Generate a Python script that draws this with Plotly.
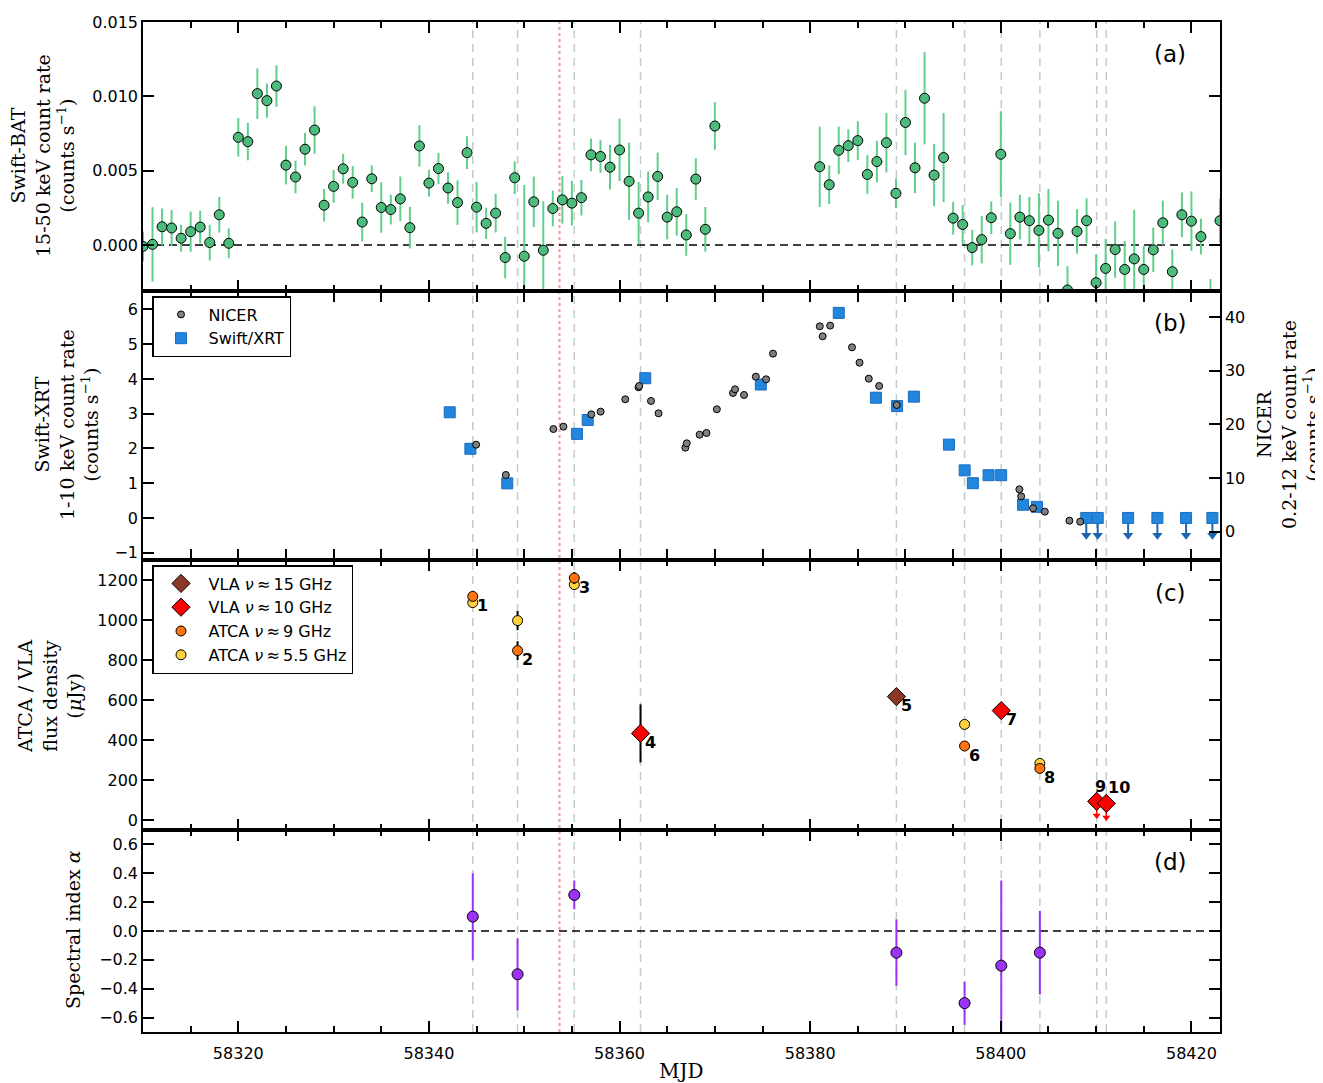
import plotly.graph_objects as go

# ---------------- data ----------------
bat_mjd = list(range(58310, 58371)) + list(range(58381, 58424))
bat_rate = [
    -0.0001, 0.00004, 0.00122, 0.00114, 0.00045, 0.00089, 0.0012, 0.00016, 0.00203, 0.00011,
    0.00724, 0.00695, 0.01018, 0.00971, 0.01069, 0.00537, 0.00457, 0.00644, 0.00773, 0.00267,
    0.00394, 0.00512, 0.00421, 0.00154, 0.00445, 0.00252, 0.00238, 0.0031, 0.00116, 0.00666,
    0.00416, 0.00514, 0.00383, 0.00285, 0.00621, 0.00254, 0.00145, 0.00214, -0.00085, 0.00452,
    -0.00076, 0.0029, -0.00036, 0.00245, 0.00303, 0.00281, 0.00318, 0.00606, 0.00595, 0.00523,
    0.00639, 0.00428, 0.00214, 0.00323, 0.00461, 0.00187, 0.00223, 0.00067, 0.00443, 0.00105,
    0.0080,
    0.00526, 0.00405, 0.00637, 0.00668, 0.00702, 0.00474, 0.00561, 0.00688, 0.00347, 0.00824,
    0.00519, 0.00987, 0.0047, 0.00588, 0.0018, 0.00138, -0.00018, 0.00036, 0.00183, 0.0061,
    0.00076, 0.00187, 0.00163, 0.00098, 0.00167, 0.00078, -0.00303, 0.00091, 0.00163, -0.00254,
    -0.00158, -0.00031, -0.00165, -0.00094, -0.00165, -0.00033, 0.00149, -0.0018, 0.00203, 0.0016,
    0.00056, -0.0044, 0.00163,
]
bat_err = [
    0.0010, 0.0025, 0.00123, 0.0012, 0.0009, 0.00135, 0.0011, 0.0012, 0.0012, 0.0010,
    0.0013, 0.00126, 0.0017, 0.00115, 0.0014, 0.0013, 0.0011, 0.0011, 0.0016, 0.0011,
    0.0011, 0.0010, 0.0011, 0.0013, 0.0009, 0.0017, 0.0010, 0.0015, 0.0014, 0.0014,
    0.0009, 0.00105, 0.00105, 0.0015, 0.0011, 0.0017, 0.00105, 0.0013, 0.0014, 0.0011,
    0.0048, 0.0017, 0.0033, 0.0012, 0.0016, 0.0015, 0.0012, 0.0011, 0.0011, 0.0015,
    0.0021, 0.0026, 0.0021, 0.0017, 0.0016, 0.0015, 0.0016, 0.0014, 0.0014, 0.0015,
    0.0016,
    0.0027, 0.0013, 0.0016, 0.0011, 0.0013, 0.0013, 0.0014, 0.0020, 0.0010, 0.0022,
    0.0017, 0.0031, 0.0021, 0.0030, 0.0011, 0.0013, 0.0012, 0.0016, 0.0011, 0.0029,
    0.0021, 0.0015, 0.0016, 0.0025, 0.0021, 0.0022, 0.0016, 0.0015, 0.0015, 0.0019,
    0.0020, 0.0019, 0.0019, 0.0033, 0.0016, 0.0015, 0.0015, 0.0015, 0.0015, 0.0020,
    0.0012, 0.0021, 0.0015,
]

nicer_mjd = [58344.95, 58348.07, 58353.06, 58354.11, 58357.04, 58358.01, 58360.6, 58361.99,
             58362.06, 58363.3, 58364.09, 58366.9, 58367.05, 58368.4, 58369.12, 58370.21,
             58371.9, 58372.12, 58373.06, 58374.3, 58375.38, 58376.1, 58381.01, 58381.31,
             58382.1, 58384.39, 58385.18, 58386.15, 58387.24, 58389.08, 58401.95, 58402.14,
             58403.38, 58404.62, 58407.2, 58408.33]
nicer_rate = [16.2, 10.56, 19.13, 19.57, 21.86, 22.36, 24.66, 26.89,
              27.14, 24.35, 22.05, 15.65, 16.46, 18.07, 18.39, 22.8,
              25.84, 26.52, 25.47, 28.88, 28.39, 33.17, 38.26, 36.4,
              38.39, 34.35, 31.49, 28.51, 27.14, 23.6, 7.89, 6.58,
              4.35, 3.73, 2.05, 1.86]
nicer_err = [0.3] * len(nicer_mjd)

xrt_mjd = [58342.18, 58344.35, 58348.22, 58355.53, 58356.66, 58362.70, 58374.82, 58383.0,
           58386.9, 58389.12, 58390.88, 58394.56, 58396.21, 58397.07, 58398.72, 58400.04,
           58402.33, 58403.79]
xrt_rate = [3.04, 1.99, 0.995, 2.42, 2.82, 4.02, 3.84, 5.90,
            3.46, 3.22, 3.49, 2.11, 1.37, 1.0, 1.23, 1.23,
            0.38, 0.32]
xrt_err = [0.08, 0.08, 0.08, 0.08, 0.1, 0.16, 0.16, 0.16,
           0.12, 0.1, 0.12, 0.08, 0.1, 0.06, 0.08, 0.1,
           0.06, 0.06]
xrt_ul_mjd = [58408.97, 58410.17, 58413.36, 58416.43, 58419.44, 58422.2]
xrt_ul_rate = [0.0, 0.0, 0.0, 0.0, 0.0, 0.0]

# radio epochs (also marked by the vertical dashed lines)
epoch_mjd = [58344.6, 58349.3, 58355.25, 58362.2, 58389.05, 58396.2, 58400.05, 58404.1, 58410.06, 58411.07]
epoch_labels = ["1", "2", "3", "4", "5", "6", "7", "8", "9", "10"]
epoch_label_flux = [1118, 847, 1210, 433, 617, 370, 547, 258, 93, 83]
outburst_mjd = 58353.7

atca9_epochs = [1, 2, 3, 6, 8]
atca9_flux = [1118, 847, 1210, 370, 258]
atca9_err = [20, 47, 30, 15, 15]
atca55_epochs = [1, 2, 3, 6, 8]
atca55_flux = [1087, 997, 1177, 478, 283]
atca55_err = [20, 48, 25, 15, 15]
vla10_epochs = [4, 7]
vla10_flux = [433, 547]
vla10_err = [145, 20]
vla10_ul_epochs = [9, 10]
vla10_ul_flux = [93, 83]
vla15_epochs = [5]
vla15_flux = [617]
vla15_err = [15]

alpha_epochs = [1, 2, 3, 5, 6, 7, 8]
alpha = [0.10, -0.30, 0.25, -0.15, -0.50, -0.24, -0.15]
alpha_err = [0.30, 0.25, 0.10, 0.23, 0.15, 0.59, 0.29]

# ---------------- layout geometry ----------------
# the page body adds an 8 px offset, so the figure is drawn 8 px smaller
# and the target pixel positions below are in window pixels
OFF = 8
PLOT_L, PLOT_R, PLOT_T, PLOT_B = 143, 1220, 22, 1032
W, H = 1315, 1075
ML = PLOT_L - OFF
MT = PLOT_T - OFF
MR = OFF + W - PLOT_R
MB = OFF + H - PLOT_B
PW, PH = PLOT_R - PLOT_L, PLOT_B - PLOT_T


def px_x(px):
    return (px - PLOT_L) / PW


def px_y(py):
    return (PLOT_B - py) / PH


dom_a = [px_y(291), 1.0]
dom_b = [px_y(560), px_y(291)]
dom_c = [px_y(830), px_y(560)]
dom_d = [0.0, px_y(830)]


def ep(idx_list):
    return [epoch_mjd[i - 1] for i in idx_list]


GREEN = "#4dbb7b"
GREEN_ERR = "#5fcf8c"
XRT_BLUE = "#2186dc"
ARROW_BLUE = "#1f64ad"
ORANGE = "#ff7410"
YELLOW = "#ffd23a"
RED = "#ff0000"
BROWN = "#8c3826"
PURPLE = "#9a33f5"

# upper-limit arrow lengths (style, in axis units)
XRT_UL_ARROW = 0.5
VLA_UL_ARROW = 70

fig = go.Figure()

# panel (a)
fig.add_trace(go.Scatter(
    x=bat_mjd, y=bat_rate, mode="markers", xaxis="x", yaxis="y", showlegend=False,
    error_y=dict(type="data", array=bat_err, color=GREEN_ERR, thickness=2, width=0),
    marker=dict(size=10, color=GREEN, line=dict(color="black", width=1)),
))

# panel (b)
fig.add_trace(go.Scatter(
    x=xrt_mjd, y=xrt_rate, mode="markers", xaxis="x2", yaxis="y2", name="Swift/XRT",
    legend="legend", legendrank=2,
    error_y=dict(type="data", array=xrt_err, color=XRT_BLUE, thickness=1.5, width=0),
    marker=dict(symbol="square", size=11, color=XRT_BLUE, line=dict(color="#1a6cc0", width=1)),
))
# upper limits: stem drawn as a one-sided error bar, head as a small triangle
fig.add_trace(go.Scatter(
    x=xrt_ul_mjd, y=[r - XRT_UL_ARROW for r in xrt_ul_rate], mode="markers", xaxis="x2", yaxis="y2",
    showlegend=False, hoverinfo="skip",
    marker=dict(symbol="triangle-down", size=9, color=ARROW_BLUE, line=dict(width=0)),
))
fig.add_trace(go.Scatter(
    x=xrt_ul_mjd, y=xrt_ul_rate, mode="markers", xaxis="x2", yaxis="y2", showlegend=False,
    error_y=dict(type="data", symmetric=False, array=[0] * len(xrt_ul_rate),
                 arrayminus=[XRT_UL_ARROW] * len(xrt_ul_rate), color=ARROW_BLUE, thickness=2, width=0),
    marker=dict(symbol="square", size=11, color=XRT_BLUE, line=dict(color="#1a6cc0", width=1)),
))
fig.add_trace(go.Scatter(
    x=nicer_mjd, y=nicer_rate, mode="markers", xaxis="x2", yaxis="y3", name="NICER",
    legend="legend", legendrank=1,
    error_y=dict(type="data", array=nicer_err, color="#808080", thickness=1, width=0),
    marker=dict(size=7, color="#808080", line=dict(color="black", width=1)),
))

# panel (c)
fig.add_trace(go.Scatter(
    x=ep(atca55_epochs), y=atca55_flux, mode="markers", xaxis="x3", yaxis="y4",
    name="ATCA <i>ν</i>\u2009≈\u20095.5 GHz", legend="legend2", legendrank=4,
    error_y=dict(type="data", array=atca55_err, color="black", thickness=2, width=0),
    marker=dict(size=10, color=YELLOW, line=dict(color="black", width=1)),
))
fig.add_trace(go.Scatter(
    x=ep(atca9_epochs), y=atca9_flux, mode="markers", xaxis="x3", yaxis="y4",
    name="ATCA <i>ν</i>\u2009≈\u20099 GHz", legend="legend2", legendrank=3,
    error_y=dict(type="data", array=atca9_err, color="black", thickness=2, width=0),
    marker=dict(size=10, color=ORANGE, line=dict(color="black", width=1)),
))
fig.add_trace(go.Scatter(
    x=ep(vla15_epochs), y=vla15_flux, mode="markers", xaxis="x3", yaxis="y4",
    name="VLA <i>ν</i>\u2009≈\u200915 GHz", legend="legend2", legendrank=1,
    error_y=dict(type="data", array=vla15_err, color="black", thickness=2, width=0),
    marker=dict(symbol="diamond", size=14, color=BROWN, line=dict(color="black", width=1)),
))
fig.add_trace(go.Scatter(
    x=ep(vla10_epochs), y=vla10_flux, mode="markers", xaxis="x3", yaxis="y4",
    name="VLA <i>ν</i>\u2009≈\u200910 GHz", legend="legend2", legendrank=2,
    error_y=dict(type="data", array=vla10_err, color="black", thickness=2, width=0),
    marker=dict(symbol="diamond", size=14, color=RED, line=dict(color="black", width=1)),
))
fig.add_trace(go.Scatter(
    x=ep(vla10_ul_epochs), y=[f - VLA_UL_ARROW for f in vla10_ul_flux], mode="markers",
    xaxis="x3", yaxis="y4", showlegend=False, hoverinfo="skip",
    marker=dict(symbol="triangle-down", size=7, color=RED, line=dict(width=0)),
))
fig.add_trace(go.Scatter(
    x=ep(vla10_ul_epochs), y=vla10_ul_flux, mode="markers", xaxis="x3", yaxis="y4", showlegend=False,
    error_y=dict(type="data", symmetric=False, array=[0] * len(vla10_ul_flux),
                 arrayminus=[VLA_UL_ARROW] * len(vla10_ul_flux), color=RED, thickness=1.5, width=0),
    marker=dict(symbol="diamond", size=14, color=RED, line=dict(color="black", width=1)),
))

# panel (d)
fig.add_trace(go.Scatter(
    x=ep(alpha_epochs), y=alpha, mode="markers", xaxis="x4", yaxis="y5", showlegend=False,
    error_y=dict(type="data", array=alpha_err, color=PURPLE, thickness=2, width=0),
    marker=dict(size=11, color=PURPLE, line=dict(color="black", width=1)),
))

# ---------------- axes ----------------
TICKFONT = dict(family="DejaVu Sans", size=16, color="black")
common = dict(showline=True, linecolor="black", linewidth=1.5, ticks="inside", ticklen=11,
              tickwidth=1.5, tickcolor="black", showgrid=False, zeroline=False, tickfont=TICKFONT,
              automargin=False)
xcommon = dict(common, range=[58310, 58423], tickmode="linear", tick0=58320, dtick=20,
               mirror="allticks", tickformat="d",
               minor=dict(ticks="inside", ticklen=6, tickwidth=1.5, tickcolor="black",
                          tick0=58310, dtick=5, showgrid=False))

fig.update_layout(
    xaxis=dict(xcommon, domain=[0, 1], anchor="y", showticklabels=False),
    xaxis2=dict(xcommon, domain=[0, 1], anchor="y2", matches="x", showticklabels=False),
    xaxis3=dict(xcommon, domain=[0, 1], anchor="y4", matches="x", showticklabels=False),
    xaxis4=dict(xcommon, domain=[0, 1], anchor="y5", matches="x", showticklabels=True,
                ticklabelstandoff=6),
    yaxis=dict(common, domain=dom_a, anchor="x", range=[-0.0031, 0.015], mirror="allticks",
               tickmode="linear", tick0=0, dtick=0.005, tickformat=".3f"),
    yaxis2=dict(common, domain=dom_b, anchor="x2", range=[-1.21, 6.53], mirror=False,
                tickmode="linear", tick0=0, dtick=1),
    yaxis3=dict(common, overlaying="y2", side="right", anchor="x2", range=[-5.28, 44.84],
                mirror=False, tickmode="linear", tick0=0, dtick=10),
    yaxis4=dict(common, domain=dom_c, anchor="x3", range=[-50, 1300], mirror="allticks",
                tickmode="linear", tick0=0, dtick=200),
    yaxis5=dict(common, domain=dom_d, anchor="x4", range=[-0.7, 0.7], mirror="allticks",
                tickmode="linear", tick0=0, dtick=0.2, tickformat=".1f"),
)

# ---------------- lines ----------------
shapes = []
for m in epoch_mjd:
    shapes.append(dict(type="line", xref="x", yref="paper", x0=m, x1=m, y0=0, y1=1, layer="below",
                       line=dict(color="#c3cbcb", width=1.5, dash="8px,6px")))
shapes.append(dict(type="line", xref="x", yref="paper", x0=outburst_mjd, x1=outburst_mjd, y0=0, y1=1,
                   layer="below", line=dict(color="#f3a0a0", width=2.2, dash="3px,3px")))
shapes.append(dict(type="line", xref="paper", yref="y", x0=0, x1=1, y0=0, y1=0, layer="below",
                   line=dict(color="black", width=1.5, dash="8px,5px")))
shapes.append(dict(type="line", xref="paper", yref="y5", x0=0, x1=1, y0=0, y1=0, layer="below",
                   line=dict(color="black", width=1.5, dash="8px,5px")))

# ---------------- annotations ----------------
ann = []
TITLE_FONT = dict(family="DejaVu Serif", size=19, color="black")


def title_ann(text, px, py, angle=-90, font=TITLE_FONT):
    return dict(text=text, xref="paper", yref="paper", x=px_x(px), y=px_y(py), showarrow=False,
                textangle=angle, xanchor="center", yanchor="middle", font=font, align="center")


ann.append(title_ann("Swift-BAT<br>15-50 keV count rate<br>(counts s<sup>−1</sup>)", 42, 156))
ann.append(title_ann("Swift-XRT<br>1-10 keV count rate<br>(counts s<sup>−1</sup>)", 66, 425))
ann.append(title_ann("ATCA / VLA<br>flux density<br>(<i>μ</i>Jy)", 50, 697))
ann.append(title_ann("Spectral index <i>α</i>", 73, 930))
ann.append(title_ann("NICER<br>0.2-12 keV count rate<br>(counts s<sup>−1</sup>)", 1288, 425))
ann.append(title_ann("MJD", 681, 1071, angle=0, font=dict(family="DejaVu Serif", size=20, color="black")))

PANEL_FONT = dict(family="DejaVu Sans", size=23, color="black")
for lab, py in [("(a)", 54), ("(b)", 323), ("(c)", 593), ("(d)", 862)]:
    ann.append(dict(text=lab, xref="paper", yref="paper", x=px_x(1170), y=px_y(py), showarrow=False,
                    xanchor="center", yanchor="middle", font=PANEL_FONT))

# epoch number labels
label_shift = [(10, -9)] * 8 + [(4, 15), (13, 16)]
for lab, m, f, (dx, dy) in zip(epoch_labels, epoch_mjd, epoch_label_flux, label_shift):
    ann.append(dict(text="<b>%s</b>" % lab, xref="x3", yref="y4", x=m, y=f, xshift=dx, yshift=dy,
                    showarrow=False, xanchor="center", yanchor="middle",
                    font=dict(family="DejaVu Sans", size=16, color="black")))

LEGFONT = dict(family="DejaVu Sans", size=16, color="black")
fig.update_layout(
    width=W, height=H,
    margin=dict(l=ML, r=MR, t=MT, b=MB, pad=0, autoexpand=False),
    paper_bgcolor="white", plot_bgcolor="rgba(0,0,0,0)",
    shapes=shapes, annotations=ann,
    legend=dict(x=px_x(152), y=px_y(296), xanchor="left", yanchor="top", bgcolor="white",
                bordercolor="black", borderwidth=1.5, font=LEGFONT, itemwidth=45, tracegroupgap=0),
    legend2=dict(x=px_x(152), y=px_y(565), xanchor="left", yanchor="top", bgcolor="white",
                 bordercolor="black", borderwidth=1.5, font=LEGFONT, itemwidth=45, tracegroupgap=0),
)

fig.write_html("out.html")
